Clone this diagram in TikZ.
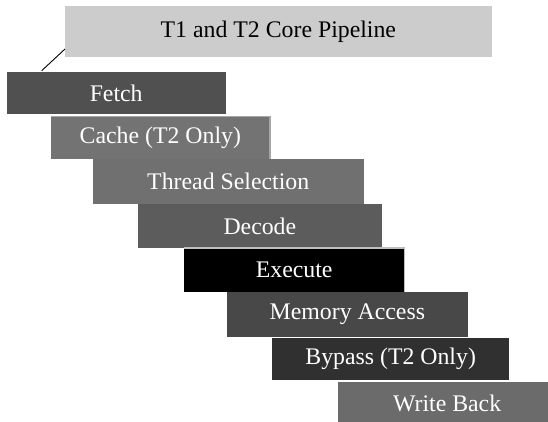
\documentclass[tikz,border=0pt]{standalone}
\usepackage{fontspec}
\setmainfont{Liberation Serif}
\definecolor{titlegray}{HTML}{CCCCCC}
\definecolor{fetchgray}{HTML}{505050}
\definecolor{cachegray}{HTML}{737373}
\definecolor{threadgray}{HTML}{707070}
\definecolor{decodegray}{HTML}{5C5C5C}
\definecolor{memgray}{HTML}{484848}
\definecolor{bypassgray}{HTML}{303030}
\definecolor{wbgray}{HTML}{6B6B6B}
\definecolor{edgegray}{HTML}{BEBEBE}
\begin{document}
\begin{tikzpicture}[x=1pt,y=-1pt,
  stagebox/.style={anchor=north west, inner sep=0pt, outer sep=0pt, text=white,
    font=\fontsize{23.8}{28}\selectfont},
  titlebox/.style={stagebox, text=black, fill=titlegray},
  edgeline/.style={draw=edgegray, line width=1.2pt},
  leader/.style={draw=black, line width=0.9pt}]
  \clip (0,0) rectangle (548,422);
  \fill[white] (0,0) rectangle (548,422);

  % heading
  \node[titlebox, minimum width=426.7pt, minimum height=50.7pt] (title) at (65,6) {T1 and T2 Core Pipeline};

  % pipeline stages, stepping down to the right
  \node[stagebox, fill=fetchgray,  minimum width=219pt,   minimum height=42pt]   (fetch)   at (6.7,72)    {Fetch};
  \node[stagebox, fill=cachegray,  minimum width=219.3pt, minimum height=42.3pt] (cache)   at (50.7,116.7) {Cache (T2 Only)};
  \node[stagebox, fill=threadgray, minimum width=271pt,   minimum height=45pt]   (thread)  at (92.7,159)  {Thread Selection};
  \node[stagebox, fill=decodegray, minimum width=243.7pt, minimum height=44pt]   (decode)  at (138,204)   {Decode};
  \node[stagebox, fill=black,      minimum width=220.3pt, minimum height=43.7pt] (execute) at (184,248)   {Execute};
  \node[stagebox, fill=memgray,    minimum width=240.7pt, minimum height=45.3pt] (memory)  at (227,292)   {Memory Access};
  \node[stagebox, fill=bypassgray, minimum width=237.3pt, minimum height=42pt]   (bypass)  at (272,338)   {Bypass (T2 Only)};
  \node[stagebox, fill=wbgray,     minimum width=217.7pt, minimum height=42pt]   (wb)      at (338.3,382) {Write Back};

  % light top and right edges
  \draw[edgeline] (execute.south east) -- (execute.north east) -- (execute.north west);
  \draw[edgeline, draw=gray!70] (cache.south east) -- (cache.north east) -- (cache.north west);

  % leader from the heading towards the first stage
  \coordinate (tick) at (41.7,70.7);
  \draw[leader] ([yshift=7.7pt]title.south west) -- (tick);
\end{tikzpicture}
\end{document}
